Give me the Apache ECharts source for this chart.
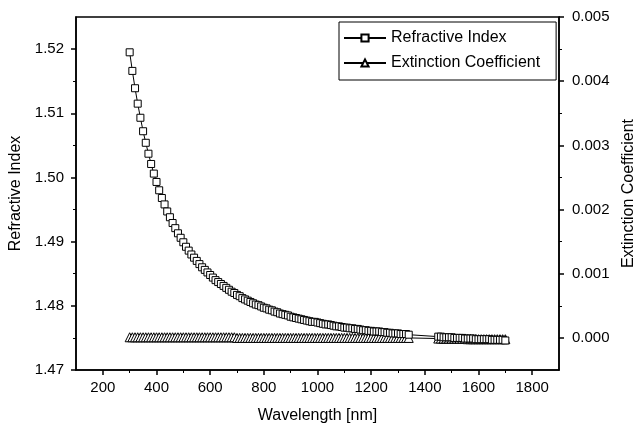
<!DOCTYPE html>
<html><head><meta charset="utf-8">
<script src="https://cdn.jsdelivr.net/npm/echarts@6/dist/echarts.min.js"></script>
<style>html,body{margin:0;padding:0;background:#fff}#c{width:634px;height:430px}</style>
</head><body><div id="c"></div>
<script>
const wavelengths = [
  300,310,320,330,340,350,360,370,380,390,
  400,410,420,430,440,450,460,470,480,490,
  500,510,520,530,540,550,560,570,580,590,
  600,610,620,630,640,650,660,670,680,690,
  700,710,720,730,740,750,760,770,780,790,
  800,810,820,830,840,850,860,870,880,890,
  900,910,920,930,940,950,960,970,980,990,
  1000,1010,1020,1030,1040,1050,1060,1070,1080,1090,
  1100,1110,1120,1130,1140,1150,1160,1170,1180,1190,
  1200,1210,1220,1230,1240,1250,1260,1270,1280,1290,
  1300,1310,1320,1330,1340,
  1450,1460,1470,1480,1490,1500,1510,1520,1530,1540,
  1550,1560,1570,1580,1590,1600,1610,1620,1630,1640,
  1650,1660,1670,1680,1690,1700
];
const refractiveIndex = [
  1.5195,1.5166,1.5139,1.5115,1.5093,1.5072,1.5054,1.5037,1.5021,1.5006,
  1.4993,1.4980,1.4968,1.4958,1.4947,1.4938,1.4929,1.4921,1.4913,1.4906,
  1.4899,1.4892,1.4886,1.4880,1.4875,1.4870,1.4865,1.4860,1.4856,1.4852,
  1.4848,1.4844,1.4840,1.4837,1.4834,1.4831,1.4828,1.4825,1.4822,1.4820,
  1.4817,1.4815,1.4812,1.4810,1.4808,1.4806,1.4804,1.4802,1.4801,1.4799,
  1.4797,1.4796,1.4794,1.4793,1.4791,1.4790,1.4788,1.4787,1.4786,1.4785,
  1.4783,1.4782,1.4781,1.4780,1.4779,1.4778,1.4777,1.4776,1.4775,1.4775,
  1.4774,1.4773,1.4772,1.4771,1.4771,1.4770,1.4769,1.4768,1.4768,1.4767,
  1.4766,1.4766,1.4765,1.4765,1.4764,1.4764,1.4763,1.4762,1.4762,1.4761,
  1.4761,1.4760,1.4760,1.4760,1.4759,1.4759,1.4758,1.4758,1.4757,1.4757,
  1.4757,1.4756,1.4756,1.4756,1.4755,
  1.4752,1.4752,1.4751,1.4751,1.4751,1.4751,1.4750,1.4750,1.4750,1.4750,
  1.4749,1.4749,1.4749,1.4749,1.4748,1.4748,1.4748,1.4748,1.4748,1.4748,
  1.4747,1.4747,1.4747,1.4747,1.4747,1.4746
];
const extinctionCoeff = [
  0.00001,0.00001,0.00001,0.00001,0.00001,0.00001,0.00001,0.00001,0.00001,0.00001,
  0.00001,0.00001,0.00001,0.00001,0.00001,0.00001,0.00001,0.00001,0.00001,0.00001,
  0.00001,0.00001,0.00001,0.00001,0.00001,0.00001,0.00001,0.00001,0.00001,0.00001,
  0.00001,0.00001,0.00001,0.00001,0.00001,0.00001,0.00001,0.00001,0.00001,0.00001,
  0,0,0,0,0,0,0,0,0,0,
  0,0,0,0,0,0,0,0,0,0,
  0,0,0,0,0,0,0,0,0,0,
  0,0,0,0,0,0,0,0,0,0,
  0,0,0,0,0,0,0,0,0,0,
  0,0,0,0,0,0,0,0,0,0,
  0,0,0,0,0,
  -0.00001,-0.00001,-0.00001,-0.00001,-0.00001,-0.00001,-0.00001,-0.00001,-0.00001,-0.00001,
  -0.00001,-0.00002,-0.00002,-0.00002,-0.00002,-0.00002,-0.00002,-0.00002,-0.00002,-0.00002,
  -0.00002,-0.00002,-0.00002,-0.00002,-0.00002,-0.00002
];
const xTicks = [200,400,600,800,1000,1200,1400,1600,1800];
const xMinorTicks = [300,500,700,900,1100,1300,1500,1700];
const leftTicks = [1.47,1.48,1.49,1.50,1.51,1.52];
const leftMinorTicks = [1.475,1.485,1.495,1.505,1.515];
const rightTicks = [0,0.001,0.002,0.003,0.004,0.005];
const rightMinorTicks = [0.0005,0.0015,0.0025,0.0035,0.0045];

const FONT = 'Liberation Sans, Arial, sans-serif';
const chart = echarts.init(document.getElementById('c'));
const blank = {show:false};
chart.setOption({
  animation:false,
  backgroundColor:'#fff',
  grid:{left:76,right:75,top:17,bottom:60,containLabel:false,outerBoundsMode:'none',
        show:true,borderColor:'#000',borderWidth:1.5,backgroundColor:'transparent'},
  legend:{
    orient:'vertical',left:339,top:22,
    borderColor:'#000',borderWidth:1,borderRadius:0,
    padding:[7,16,8,4],
    itemWidth:42,itemHeight:9,itemGap:7,
    textStyle:{fontFamily:FONT,fontSize:16,color:'#000',lineHeight:18},
    data:['Refractive Index','Extinction Coefficient']
  },
  xAxis:[
    {type:'value',min:100,max:1900,interval:100,position:'bottom',
     name:'Wavelength [nm]',nameLocation:'middle',nameGap:38,
     nameTextStyle:{fontFamily:FONT,fontSize:16,color:'#000'},
     axisLine:{show:true,onZero:false,lineStyle:{color:'#000',width:1.5}},
     axisTick:{show:true,inside:false,length:5,customValues:xTicks,lineStyle:{color:'#000',width:1.5}},
     axisLabel:{show:true,margin:10,customValues:xTicks,fontFamily:FONT,fontSize:15,color:'#000',formatter:v=>String(v)},
     splitLine:blank},
    {type:'value',min:100,max:1900,interval:100,position:'bottom',
     axisLine:{show:false,onZero:false},
     axisTick:{show:true,inside:false,length:3,customValues:xMinorTicks,lineStyle:{color:'#000',width:1}},
     axisLabel:blank,splitLine:blank}
  ],
  yAxis:[
    {type:'value',min:1.47,max:1.525,interval:0.01,position:'left',
     name:'Refractive Index',nameLocation:'middle',nameGap:52,
     nameTextStyle:{fontFamily:FONT,fontSize:16,color:'#000'},
     axisLine:{show:true,onZero:false,lineStyle:{color:'#000',width:1.5}},
     axisTick:{show:true,inside:false,length:5,customValues:leftTicks,lineStyle:{color:'#000',width:1.5}},
     axisLabel:{show:true,margin:12,customValues:leftTicks,fontFamily:FONT,fontSize:15,color:'#000',formatter:v=>v.toFixed(2)},
     splitLine:blank},
    {type:'value',min:-0.0005,max:0.005,interval:0.0005,position:'right',
     name:'Extinction Coefficient',nameLocation:'middle',nameGap:54,
     nameTextStyle:{fontFamily:FONT,fontSize:16,color:'#000'},
     axisLine:{show:true,onZero:false,lineStyle:{color:'#000',width:1.5}},
     axisTick:{show:true,inside:false,length:5,customValues:rightTicks,lineStyle:{color:'#000',width:1.5}},
     axisLabel:{show:true,margin:13,customValues:rightTicks,fontFamily:FONT,fontSize:15,color:'#000',formatter:v=>Math.abs(v)<1e-9?'0.000':v.toFixed(3)},
     splitLine:blank},
    {type:'value',min:1.47,max:1.525,interval:0.01,position:'left',
     axisLine:{show:false,onZero:false},
     axisTick:{show:true,inside:false,length:3,customValues:leftMinorTicks,lineStyle:{color:'#000',width:1}},
     axisLabel:blank,splitLine:blank},
    {type:'value',min:-0.0005,max:0.005,interval:0.0005,position:'right',
     axisLine:{show:false,onZero:false},
     axisTick:{show:true,inside:false,length:3,customValues:rightMinorTicks,lineStyle:{color:'#000',width:1}},
     axisLabel:blank,splitLine:blank}
  ],
  series:[
    {name:'Refractive Index',type:'line',xAxisIndex:0,yAxisIndex:0,
     data:wavelengths.map((w,i)=>[w,refractiveIndex[i]]),
     symbol:'rect',symbolSize:7,showAllSymbol:true,
     itemStyle:{color:'#fff',borderColor:'#000',borderWidth:1},
     lineStyle:{color:'#000',width:1},
     emphasis:{disabled:true},z:3},
    {name:'Extinction Coefficient',type:'line',xAxisIndex:0,yAxisIndex:1,
     data:wavelengths.map((w,i)=>[w,extinctionCoeff[i]]),
     symbol:'triangle',symbolSize:9,showAllSymbol:true,
     itemStyle:{color:'#fff',borderColor:'#000',borderWidth:1},
     lineStyle:{color:'#000',width:1},
     emphasis:{disabled:true},z:2}
  ]
});
</script>
</body></html>
